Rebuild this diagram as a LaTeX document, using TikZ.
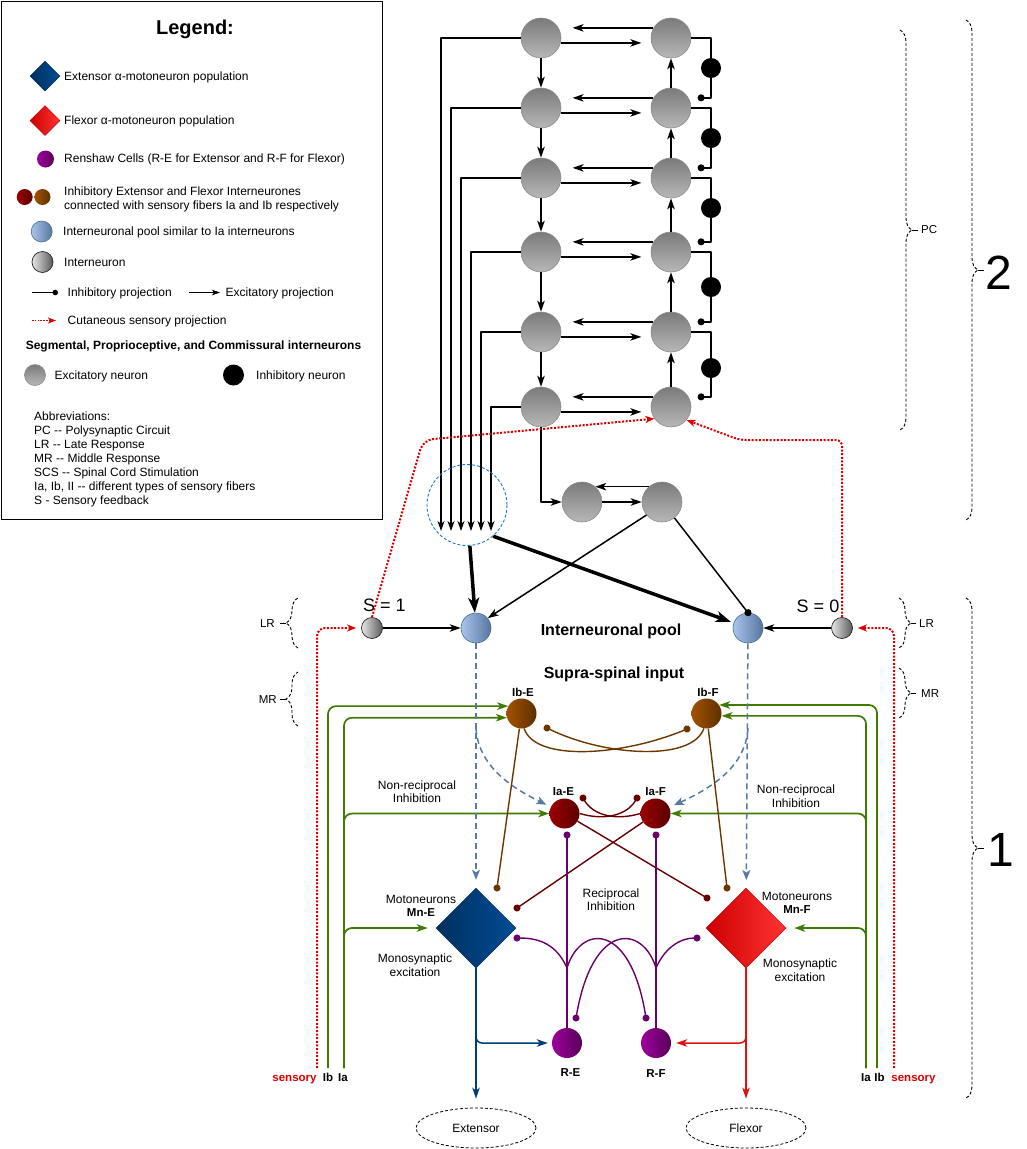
\documentclass[tikz,border=0pt]{standalone}
\usepackage{fontspec}
\setmainfont{Liberation Sans}
\usetikzlibrary{arrows.meta,shapes.geometric,decorations.pathreplacing}
\definecolor{mnEl}{HTML}{00305F}
\definecolor{mnEr}{HTML}{004C94}
\definecolor{mnEd}{HTML}{002C58}
\definecolor{mnFl}{HTML}{CC0000}
\definecolor{mnFr}{HTML}{FF3333}
\definecolor{mnFd}{HTML}{B20000}
\definecolor{ibl}{HTML}{A35200}
\definecolor{ibr}{HTML}{5E2F00}
\definecolor{ial}{HTML}{9A0000}
\definecolor{iar}{HTML}{5A0000}
\definecolor{rcl}{HTML}{9E009E}
\definecolor{rcr}{HTML}{580058}
\definecolor{pooll}{HTML}{A9C4EB}
\definecolor{poolr}{HTML}{56759E}
\definecolor{poold}{HTML}{4F6E96}
\definecolor{sgreen}{HTML}{3F7B00}
\definecolor{brn}{HTML}{6B3700}
\definecolor{dred}{HTML}{660000}
\definecolor{purp}{HTML}{6A006A}
\definecolor{steel}{HTML}{5878A6}
\definecolor{extb}{HTML}{003C78}
\definecolor{flxr}{HTML}{DD1111}
\definecolor{sred}{HTML}{DD0000}
\definecolor{cblue}{HTML}{1E78D2}
\begin{document}
\begin{tikzpicture}[x=1pt,y=-1pt, line join=round,
  >={Stealth[length=11pt,width=7.5pt,inset=3pt]},
  conn/.style={line width=1.5pt},
  exc/.style={->},
  inh/.style={-{Circle[length=7pt]}, shorten >=-3.5pt},
  pcn/.style={circle, minimum size=40pt, inner sep=0pt, draw=black!45, line width=0.6pt, top color=black!52, bottom color=black!28},
  inhn/.style={circle, minimum size=20pt, inner sep=0pt, fill=black},
  intn/.style={circle, minimum size=21pt, inner sep=0pt, draw=black!85, line width=0.7pt, left color=black!10, right color=black!65},
  pooln/.style={circle, minimum size=30pt, inner sep=0pt, draw=poold, line width=0.6pt, left color=pooll, right color=poolr},
  ibn/.style={circle, minimum size=30pt, inner sep=0pt, left color=ibl, right color=ibr},
  ian/.style={circle, minimum size=30pt, inner sep=0pt, left color=ial, right color=iar},
  rcn/.style={circle, minimum size=30pt, inner sep=0pt, left color=rcl, right color=rcr},
  mneE/.style={diamond, inner sep=0pt, draw=mnEd, line width=0.5pt, left color=mnEl, right color=mnEr},
  mneF/.style={diamond, inner sep=0pt, draw=mnFd, line width=0.5pt, left color=mnFl, right color=mnFr},
  t12/.style={font=\fontsize{12}{14}\selectfont, inner sep=0pt},
  b12/.style={font=\fontsize{12}{14}\selectfont\bfseries, inner sep=0pt},
  b11/.style={font=\fontsize{11.5}{13}\selectfont\bfseries, inner sep=0pt},
  t11/.style={font=\fontsize{11.5}{13}\selectfont, inner sep=0pt},
  reddot/.style={draw=sred, line width=2pt, dash pattern=on 2pt off 1.6pt, -{Stealth[length=9pt,width=7pt,inset=2.5pt]}},
  gline/.style={draw=sgreen, line width=1.7pt, rounded corners=8pt, ->},
  dline/.style={draw=steel, line width=1.5pt, dash pattern=on 6pt off 4pt, -{Stealth[length=10pt,width=8pt,inset=2.5pt]}},
  bline/.style={draw=brn, line width=1.4pt},
  rline/.style={draw=dred, line width=1.4pt},
  pline/.style={draw=purp, line width=1.4pt},
  brc/.style={decorate, decoration={brace, amplitude=12pt}, dash pattern=on 3pt off 2pt, line width=0.9pt},
  stub/.style={line width=0.9pt}
]
\useasboundingbox (0,0) rectangle (1027,1149);

% ---------------- Legend ----------------
\node[draw, line width=1pt, minimum width=381pt, minimum height=518pt, inner sep=0pt, anchor=north west] (legbox) at (1,1) {};
\node[font=\fontsize{20}{24}\selectfont\bfseries, inner sep=0pt, anchor=base] (legt) at (195,34) {Legend:};
\node[mneE, minimum size=30pt] (lgE) at (45,76) {};
\node[t12, anchor=base west] (lgEt) at (64,80.3) {Extensor α-motoneuron population};
\node[mneF, minimum size=30pt] (lgF) at (45,120.5) {};
\node[t12, anchor=base west] (lgFt) at (64,124.8) {Flexor α-motoneuron population};
\node[rcn, minimum size=17pt] (lgR) at (45.5,159) {};
\node[t12, anchor=base west] (lgRt) at (64,162.5) {Renshaw Cells (R-E for Extensor and R-F for Flexor)};
\node[ian, minimum size=16pt] (lgIa) at (24.7,197) {};
\node[ibn, minimum size=16pt] (lgIb) at (42.5,197) {};
\node[t12, anchor=base west] (lgIt1) at (64,195.7) {Inhibitory Extensor and Flexor Interneurones};
\node[t12, anchor=base west] (lgIt2) at (64,209.3) {connected with sensory fibers Ia and Ib respectively};
\node[pooln, minimum size=21pt] (lgP) at (41.7,231.5) {};
\node[t12, anchor=base west] (lgPt) at (63,235.8) {Interneuronal pool similar to Ia interneurons};
\node[intn] (lgN) at (42.5,262) {};
\node[t12, anchor=base west] (lgNt) at (64,266.5) {Interneuron};
\coordinate (lgi1) at (32,292.5); \coordinate (lgi2) at (58,292.5);
\draw[line width=1pt, -{Circle[length=5.5pt]}] (lgi1) -- (lgi2);
\node[t12, anchor=base west] (lgit) at (67.5,296.8) {Inhibitory projection};
\coordinate (lge1) at (189,292.5); \coordinate (lge2) at (220,292.5);
\draw[line width=1pt, -{Stealth[length=8pt,width=5.5pt,inset=2pt]}] (lge1) -- (lge2);
\node[t12, anchor=base west] (lget) at (225.5,296.8) {Excitatory projection};
\coordinate (lgc1) at (32,320.5); \coordinate (lgc2) at (56,320.5);
\draw[sred, line width=1.5pt, dash pattern=on 1.5pt off 1.3pt, -{Stealth[length=8pt,width=6pt,inset=2pt]}] (lgc1) -- (lgc2);
\node[t12, anchor=base west] (lgct) at (67.5,324.6) {Cutaneous sensory projection};
\node[b12, anchor=base] (lgs) at (193.5,349.3) {Segmental, Proprioceptive, and Commissural interneurons};
\node[pcn, minimum size=21pt] (lgG) at (35,375) {};
\node[t12, anchor=base west] (lgGt) at (54.5,379.5) {Excitatory neuron};
\node[inhn, minimum size=21pt] (lgB) at (233.5,375) {};
\node[t12, anchor=base west] (lgBt) at (256,379.5) {Inhibitory neuron};
\node[t12, anchor=base west] (ab0) at (34,420) {Abbreviations:};
\node[t12, anchor=base west] (ab1) at (34,434) {PC -{}- Polysynaptic Circuit};
\node[t12, anchor=base west] (ab2) at (34,448) {LR -{}- Late Response};
\node[t12, anchor=base west] (ab3) at (34,462) {MR -{}- Middle Response};
\node[t12, anchor=base west] (ab4) at (34,476) {SCS -{}- Spinal Cord Stimulation};
\node[t12, anchor=base west] (ab5) at (34,490) {Ia, Ib, II -{}- different types of sensory fibers};
\node[t12, anchor=base west] (ab6) at (34,504) {S - Sensory feedback};

% ---------------- Polysynaptic circuit ----------------
\foreach \i/\y in {1/38,2/108,3/178,4/252,5/332,6/407} {
  \node[pcn] (L\i) at (541,\y) {};
  \node[pcn] (R\i) at (671,\y) {};
}
\foreach \i in {1,...,6} {
  \draw[conn, exc, shorten >=14pt] (R\i.150) -- (L\i.30);
  \draw[conn, exc, shorten >=10pt] (L\i.-14) -- (R\i.194);
}
\foreach \i/\j in {1/2,2/3,3/4,4/5,5/6} {
  \draw[conn, exc] (L\i) -- (L\j);
  \draw[conn, exc] (R\j) -- (R\i);
}
\foreach \i/\j/\y in {1/2/68,2/3/138,3/4/208,4/5/287,5/6/368} {
  \node[inhn] (B\i) at (711,\y) {};
  \draw[conn] (R\i.east) -| (B\i);
  \draw[conn, inh, shorten >=9pt] (B\i) |- (R\j.30);
}
\foreach \i/\x in {1/441,2/451,3/461,4/471,5/481,6/491} {
  \coordinate (T\i) at (\x,531);
  \draw[conn, -{Stealth[length=10pt,width=7pt,inset=3pt]}] (L\i.west) -| (T\i);
}
\node[ellipse, draw=cblue, dash pattern=on 3pt off 2pt, line width=0.9pt, minimum width=80pt, minimum height=81pt, inner sep=0pt] (conv) at (467,505) {};

\node[pcn] (P1) at (582,502) {};
\node[pcn] (P2) at (662,502) {};
\draw[conn, exc] (L6.south) |- (P1.west);
\draw[conn, exc] (P1.east) -- (P2.west);
\draw[conn, exc] (P2.131) -- (P1.49);

% ---------------- Interneuronal pool ----------------
\node[pooln] (PoolL) at (476,628) {};
\node[pooln] (PoolR) at (748,628) {};
\node[intn] (IL) at (372,628) {};
\node[intn] (IR) at (842,628) {};
\draw[line width=3.5pt, -{Stealth[length=15pt,width=11pt,inset=4pt]}] (conv.-86) -- (PoolL);
\draw[line width=3.5pt, -{Stealth[length=15pt,width=11pt,inset=4pt]}, shorten >=3pt] (conv.-50) -- (PoolR);
\draw[conn, exc] (P2.-140) -- (PoolL.40);
\draw[conn, inh] (P2.-52) -- (PoolR.north);
\draw[line width=1.2pt, exc] (IL) -- (PoolL);
\draw[line width=1.2pt, exc] (IR) -- (PoolR);
\node[font=\fontsize{18}{20}\selectfont, inner sep=0pt, anchor=base] (S1) at (384.5,611.7) {S = 1};
\node[font=\fontsize{18}{20}\selectfont, inner sep=0pt, anchor=base] (S0) at (818,612) {S = 0};
\node[font=\fontsize{16}{18}\selectfont\bfseries, inner sep=0pt, anchor=base] (poolt) at (611,635.7) {Interneuronal pool};
\node[font=\fontsize{16}{18}\selectfont\bfseries, inner sep=0pt, anchor=base] (supt) at (614,678.7) {Supra-spinal input};

% ---------------- Spinal neurons ----------------
\node[ibn] (IbE) at (521.5,713.5) {};
\node[ibn] (IbF) at (706.5,713.5) {};
\node[ian] (IaE) at (564.5,813.5) {};
\node[ian] (IaF) at (655.5,813.5) {};
\node[mneE, minimum size=80pt] (MnE) at (476,928) {};
\node[mneF, minimum size=80pt] (MnF) at (746,928) {};
\node[rcn] (RE) at (567,1043) {};
\node[rcn] (RF) at (656,1043) {};
\node[ellipse, draw, dash pattern=on 3pt off 2pt, line width=0.8pt, minimum width=120pt, minimum height=40pt, t12] (Ext) at (476,1128) {Extensor};
\node[ellipse, draw, dash pattern=on 3pt off 2pt, line width=0.8pt, minimum width=120pt, minimum height=40pt, t12] (Flx) at (746,1128) {Flexor};

\node[b11, anchor=base] (lIbE) at (523,696.6) {Ib-E};
\node[b11, anchor=base] (lIbF) at (708,696.2) {Ib-F};
\node[b11, anchor=base] (lIaE) at (563.5,795.2) {Ia-E};
\node[b11, anchor=base] (lIaF) at (655.7,795.2) {Ia-F};
\node[b11, anchor=base] (lRE) at (570.5,1076.7) {R-E};
\node[b11, anchor=base] (lRF) at (656,1077.6) {R-F};
\node[t12, anchor=base] (lMoE) at (421,903.3) {Motoneurons};
\node[b11, anchor=base] (lMnE) at (421,916.7) {Mn-E};
\node[t12, anchor=base] (lMsE1) at (415,962) {Monosynaptic};
\node[t12, anchor=base] (lMsE2) at (415,976.3) {excitation};
\node[t12, anchor=base] (lMoF) at (797,900.3) {Motoneurons};
\node[b11, anchor=base] (lMnF) at (797,913.4) {Mn-F};
\node[t12, anchor=base] (lMsF1) at (800,967) {Monosynaptic};
\node[t12, anchor=base] (lMsF2) at (800,981.3) {excitation};
\node[t12, anchor=base] (lRec1) at (611,897) {Reciprocal};
\node[t12, anchor=base] (lRec2) at (611,910.5) {Inhibition};
\node[t12, anchor=base] (lNrL1) at (417,789.3) {Non-reciprocal};
\node[t12, anchor=base] (lNrL2) at (417,802.7) {Inhibition};
\node[t12, anchor=base] (lNrR1) at (796,793.6) {Non-reciprocal};
\node[t12, anchor=base] (lNrR2) at (796,807) {Inhibition};

% sensory fibre labels
\node[b11, anchor=base, text=sred] (lsL) at (294.5,1081) {sensory};
\node[b11, anchor=base] (lIbL) at (328,1081) {Ib};
\node[b11, anchor=base] (lIaL) at (343,1081) {Ia};
\node[b11, anchor=base] (lIaR) at (866,1081) {Ia};
\node[b11, anchor=base] (lIbR) at (879.5,1081) {Ib};
\node[b11, anchor=base, text=sred] (lsR) at (913.5,1081) {sensory};

% ---------------- Cutaneous (red dotted) ----------------
\coordinate (sL) at (317,1068);
\coordinate (sR) at (894,1068);
\coordinate (cL) at (423,440);
\coordinate (cR1) at (842,440);
\coordinate (cR2) at (740,440);
\draw[reddot, rounded corners=8pt, shorten >=5pt] (sL) |- (IL);
\draw[reddot, rounded corners=8pt, shorten >=5pt] (sR) |- (IR);
\draw[reddot, rounded corners=10pt] (IL.north) -- (cL) -- (R6.215);
\draw[reddot, rounded corners=6pt] (IR.north) -- (cR1) -- (cR2) -- (R6.-40);

% ---------------- Green sensory fibres ----------------
\coordinate (sLb) at (328,1068);
\coordinate (sLa) at (344,1068);
\coordinate (sRa) at (866,1068);
\coordinate (sRb) at (877,1068);
\draw[gline] (sLb) |- (IbE.151);
\draw[gline] (sLa) |- (IbE.196);
\draw[gline] (sLa) |- (IaE);
\draw[gline, shorten >=8pt] (sLa) |- (MnE);
\draw[gline] (sRb) |- (IbF.34);
\draw[gline] (sRa) |- (IbF.-9);
\draw[gline] (sRa) |- (IaF);
\draw[gline, shorten >=8pt] (sRa) |- (MnF);

% ---------------- Pool outputs (blue dashed) ----------------
\coordinate (dL) at (476,728);
\coordinate (dR) at (748,728);
\draw[dline, shorten >=8pt] (PoolL) -- (MnE);
\draw[dline, shorten >=8pt] (PoolR) -- (MnF);
\draw[dline, shorten >=5pt] (dL) .. controls (478,765) and (510,787) .. (IaE);
\draw[dline, shorten >=5pt] (dR) .. controls (746,765) and (714,787) .. (IaF);

% ---------------- Ib connections ----------------
\coordinate (dIbE) at (497,888);
\coordinate (dIbF) at (727,888);
\coordinate (dIbE2) at (687,729);
\coordinate (dIbF2) at (547,728);
\draw[bline, inh] (IbE) -- (dIbE);
\draw[bline, inh] (IbF) -- (dIbF);
\draw[bline, inh] (IbE.-80) .. controls (535,762) and (622,756) .. (dIbE2);
\draw[bline, inh] (IbF.-100) .. controls (692,762) and (604,756) .. (dIbF2);

% ---------------- Ia connections ----------------
\coordinate (dIaE) at (707,898);
\coordinate (dIaF) at (517,908);
\coordinate (dIaE2) at (637,798);
\coordinate (dIaF2) at (583,798);
\draw[rline, inh] (IaE) -- (dIaE);
\draw[rline, inh] (IaF) -- (dIaF);
\draw[rline, inh] (IaE.east) .. controls (605,821) and (627,815) .. (dIaE2);
\draw[rline, inh] (IaF.west) .. controls (615,821) and (593,815) .. (dIaF2);

% ---------------- Renshaw connections ----------------
\coordinate (dRE) at (567,835);
\coordinate (dRF) at (656,835);
\coordinate (jE) at (567,968);
\coordinate (jF) at (656,968);
\coordinate (dRE2) at (517,938);
\coordinate (dRF2) at (697,938);
\coordinate (dRE3) at (646,1018);
\coordinate (dRF3) at (576,1018);
\draw[pline, inh] (RE) -- (dRE);
\draw[pline, inh] (RF) -- (dRF);
\draw[pline, inh] (jE) .. controls (557,945) and (540,938) .. (dRE2);
\draw[pline, inh] (jE) .. controls (580,925) and (630,920) .. (dRE3);
\draw[pline, inh] (jF) .. controls (643,925) and (593,920) .. (dRF3);
\draw[pline, inh] (jF) .. controls (666,945) and (683,938) .. (dRF2);

% ---------------- Motor outputs ----------------
\coordinate (jB) at (476,1025);
\coordinate (jR) at (746,1025);
\draw[draw=extb, line width=1.5pt, ->, shorten >=9pt] (MnE) -- (Ext);
\draw[draw=extb, line width=1.5pt, ->, rounded corners=6pt, shorten >=4pt] (jB) |- (RE);
\draw[draw=flxr, line width=1.5pt, ->, shorten >=9pt] (MnF) -- (Flx);
\draw[draw=flxr, line width=1.5pt, ->, rounded corners=6pt, shorten >=5pt] (jR) |- (RF);

% ---------------- Braces ----------------
\coordinate (pcT) at (900,30); \coordinate (pcB) at (900,430);
\coordinate (pcS1) at (912,230); \coordinate (pcS2) at (918,230);
\draw[brc] (pcT) -- (pcB);
\draw[stub] (pcS1) -- (pcS2);
\node[t11, anchor=base west] (pcL) at (921,233.5) {PC};

\coordinate (tT) at (966,20); \coordinate (tB) at (966,520);
\coordinate (tS1) at (978,270); \coordinate (tS2) at (984,270);
\draw[brc] (tT) -- (tB);
\draw[stub] (tS1) -- (tS2);
\node[font=\fontsize{48}{54}\selectfont, inner sep=0pt, anchor=base] (two) at (999,289) {2};

\coordinate (oT) at (966,598); \coordinate (oB) at (966,1098);
\coordinate (oS1) at (978,848); \coordinate (oS2) at (984,848);
\draw[brc] (oT) -- (oB);
\draw[stub] (oS1) -- (oS2);
\node[font=\fontsize{48}{54}\selectfont, inner sep=0pt, anchor=base] (one) at (1001,866.5) {1};

\coordinate (lrRT) at (899,598); \coordinate (lrRB) at (899,648);
\coordinate (lrRS1) at (911,623); \coordinate (lrRS2) at (916,623);
\draw[brc] (lrRT) -- (lrRB);
\draw[stub] (lrRS1) -- (lrRS2);
\node[t11, anchor=base west] (lrRL) at (919,627.3) {LR};

\coordinate (mrRT) at (899,668); \coordinate (mrRB) at (899,718);
\coordinate (mrRS1) at (911,693); \coordinate (mrRS2) at (916,693);
\draw[brc] (mrRT) -- (mrRB);
\draw[stub] (mrRS1) -- (mrRS2);
\node[t11, anchor=base west] (mrRL) at (921,697.5) {MR};

\coordinate (lrLB) at (298,648); \coordinate (lrLT) at (298,598);
\coordinate (lrLS1) at (286,623); \coordinate (lrLS2) at (280,623);
\draw[brc] (lrLB) -- (lrLT);
\draw[stub] (lrLS1) -- (lrLS2);
\node[t11, anchor=base east] (lrLL) at (275,627.3) {LR};

\coordinate (mrLB) at (298,726); \coordinate (mrLT) at (298,672);
\coordinate (mrLS1) at (286,699); \coordinate (mrLS2) at (280,699);
\draw[brc] (mrLB) -- (mrLT);
\draw[stub] (mrLS1) -- (mrLS2);
\node[t11, anchor=base east] (mrLL) at (277,703) {MR};
\end{tikzpicture}
\end{document}
